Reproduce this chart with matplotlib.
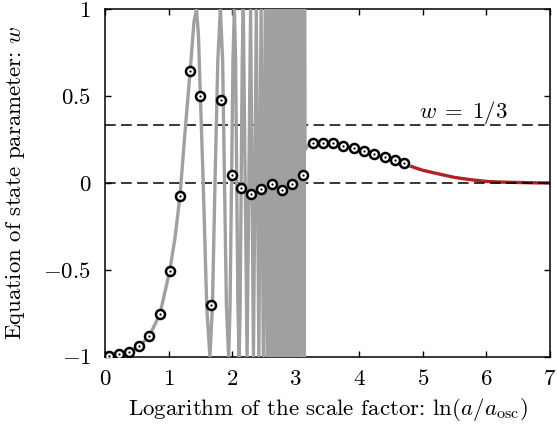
import matplotlib
matplotlib.use("Agg")
import matplotlib.pyplot as plt

plt.rcParams['font.family'] = 'serif'
plt.rcParams['font.serif'] = ['cmr10']
plt.rcParams['mathtext.fontset'] = 'cm'
plt.rcParams['axes.formatter.use_mathtext'] = True

# sampled points (circles)
marker_x = [0.063, 0.22, 0.38, 0.54, 0.70, 0.865, 1.017, 1.18, 1.34, 1.50,
            1.67, 1.83, 1.99, 2.14, 2.30, 2.46, 2.62, 2.78, 2.945, 3.11,
            3.27, 3.43, 3.58, 3.75, 3.91, 4.07, 4.23, 4.40, 4.555, 4.71]
marker_w = [-0.996, -0.985, -0.971, -0.94, -0.879, -0.754, -0.507, -0.073, 0.647, 0.50,
            -0.704, 0.48, 0.046, -0.027, -0.065, -0.035, -0.004, -0.042, -0.007, 0.046,
            0.23, 0.232, 0.229, 0.215, 0.20, 0.184, 0.167, 0.148, 0.131, 0.113]

# full solution (gray): slow roll + first oscillations
early_x = [0.0, 0.063, 0.22, 0.38, 0.54, 0.70, 0.865, 1.017, 1.10, 1.18,
           1.26, 1.34, 1.40, 1.44, 1.47, 1.50, 1.545, 1.60, 1.65, 1.69,
           1.73, 1.775, 1.815, 1.85, 1.88, 1.91, 1.945, 1.967, 1.99, 2.013,
           2.035, 2.054, 2.072, 2.091, 2.11, 2.126, 2.142, 2.159]
early_w = [-1.0, -0.996, -0.985, -0.971, -0.94, -0.879, -0.754, -0.507, -0.32, -0.073,
           0.30, 0.647, 0.93, 1.0, 0.85, 0.5, 0.0, -0.71, -1.0, -0.71,
           0.0, 0.71, 1.0, 0.71, 0.0, -0.71, -1.0, -0.71, 0.0, 0.71,
           1.0, 0.71, 0.0, -0.71, -1.0, -0.71, 0.0, 0.71]

# fast oscillations: turning points
turn_x = [2.175, 2.235, 2.29, 2.335, 2.38, 2.42, 2.455, 2.49, 2.52, 2.55,
          2.575, 2.60, 2.625, 2.645, 2.665, 2.685, 2.705, 2.72, 2.735, 2.75,
          2.765, 2.78, 2.795, 2.81, 2.822, 2.834, 2.846, 2.858, 2.869, 2.88,
          2.891, 2.902, 2.912, 2.922, 2.932, 2.942, 2.952, 2.961, 2.97, 2.979,
          2.988, 2.997, 3.006, 3.014, 3.022, 3.030, 3.038, 3.046, 3.054, 3.062,
          3.069, 3.076, 3.083, 3.090, 3.097, 3.104, 3.111, 3.118, 3.125, 3.132,
          3.139]
turn_w = [1, -1, 1, -1, 1, -1, 1, -1, 1, -1,
          1, -1, 1, -1, 1, -1, 1, -1, 1, -1,
          1, -1, 1, -1, 1, -1, 1, -1, 1, -1,
          1, -1, 1, -1, 1, -1, 1, -1, 1, -1,
          1, -1, 1, -1, 1, -1, 1, -1, 1, -1,
          1, -1, 1, -1, 1, -1, 1, -1, 1, -1,
          1]

# averaged tail (gray)
tail_x = [3.145, 3.17, 3.20, 3.27, 3.43, 3.58, 3.75, 3.91, 4.07, 4.23, 4.40, 4.555, 4.71, 4.78]
tail_w = [0.19, 0.205, 0.218, 0.23, 0.232, 0.229, 0.215, 0.20, 0.184, 0.167, 0.148, 0.131, 0.113, 0.10]

# late time (red)
red_x = [4.72, 4.78, 4.9, 5.0, 5.25, 5.5, 5.75, 6.0, 6.25, 6.5, 6.75, 7.0]
red_w = [0.111, 0.10, 0.085, 0.073, 0.052, 0.032, 0.019, 0.009, 0.005, 0.003, 0.001, 0.0]

gray_x = early_x + turn_x + tail_x
gray_w = early_w + turn_w + tail_w

fig = plt.figure(figsize=(5.57, 4.28), dpi=100)
ax = fig.add_axes([0.1885, 0.1666, 0.799, 0.8117])

ax.axhline(0, color='black', lw=1.1, dashes=(7, 3.5), zorder=2.5)
ax.axhline(1/3, color='black', lw=1.1, dashes=(7, 3.5), zorder=2.5)

ax.plot(red_x, red_w, color='#b22222', lw=2.4, zorder=2)
ax.plot(gray_x, gray_w, color='#a0a0a0', lw=2.4, zorder=3)

ax.plot(marker_x, marker_w, 'o', ms=6.5, mfc='white', mec='black', mew=1.8, zorder=4)
ax.plot(marker_x, marker_w, 'o', ms=1.6, mfc='black', mec='black', mew=0, zorder=5)

ax.text(5.63, 0.375, r'$w\;=\;1/3$', fontsize=16.5, ha='center', va='baseline')

ax.set_xlim(0, 7)
ax.set_ylim(-1, 1)
ax.set_xticks(range(8))
ax.set_xticklabels(['$%d$' % i for i in range(8)])
ax.set_yticks([-1, -0.5, 0, 0.5, 1])
ax.set_yticklabels(['$-1$', '$-0.5$', '$0$', '$0.5$', '$1$'])
ax.tick_params(direction='in', top=True, right=True, length=4, width=1.0, labelsize=16.5)
ax.tick_params(axis='x', pad=9)
ax.tick_params(axis='y', pad=10)
for s in ax.spines.values():
    s.set_linewidth(1.1)

ax.set_xlabel(r'Logarithm of the scale factor: $\ln(a/a_{\rm osc})$', fontsize=16.5, labelpad=5)
ax.set_ylabel(r'Equation of state parameter: $w$', fontsize=16.5, labelpad=12)

fig.savefig('out.png', dpi=100)
